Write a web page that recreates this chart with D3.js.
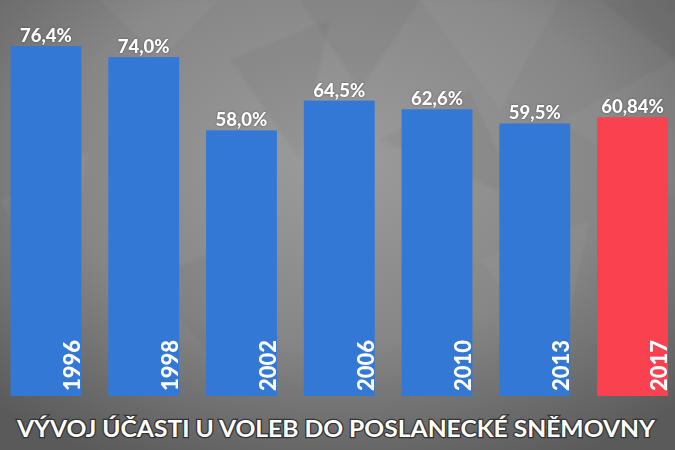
<!DOCTYPE html>
<html><head><meta charset="utf-8">
<script src="https://cdn.jsdelivr.net/npm/d3@7/dist/d3.min.js"></script>
<style>html,body{margin:0;padding:0;background:#777;}svg{display:block;}</style>
</head><body>
<script>
const years = ["1996","1998","2002","2006","2010","2013","2017"];
const turnout = [76.4, 74.0, 58.0, 64.5, 62.6, 59.5, 60.84];
const valueLabels = ["76,4%","74,0%","58,0%","64,5%","62,6%","59,5%","60,84%"];
const highlightYear = "2017";
const title = "VÝVOJ ÚČASTI U VOLEB DO POSLANECKÉ SNĚMOVNY";

const W = 675, H = 450;
const svg = d3.select("body").append("svg").attr("width", W).attr("height", H);
const defs = svg.append("defs");

// background
const rg = defs.append("radialGradient").attr("id","bg").attr("cx","50%").attr("cy","35%").attr("r","75%");
rg.append("stop").attr("offset","0%").attr("stop-color","#9c9c9c");
rg.append("stop").attr("offset","55%").attr("stop-color","#868686");
rg.append("stop").attr("offset","100%").attr("stop-color","#5a5a5a");
svg.append("rect").attr("width",W).attr("height",H).attr("fill","url(#bg)");

const blur = defs.append("filter").attr("id","soft");
blur.append("feGaussianBlur").attr("stdDeviation", 1.5);

// faint polygon texture
const polys = [
  [[300,0],[420,0],[360,90]],
  [[420,0],[560,0],[500,110]],
  [[230,60],[330,20],[300,160]],
  [[560,120],[675,60],[675,200]],
  [[380,140],[470,90],[520,200]],
  [[0,200],[90,150],[60,300]],
  [[150,280],[260,230],[230,380]],
  [[480,260],[590,220],[560,360]],
  [[600,0],[675,0],[675,60]],
  [[100,0],[220,0],[160,60]]
];
svg.append("g").attr("filter","url(#soft)").selectAll("polygon").data(polys).join("polygon")
  .attr("points", d => d.map(p => p.join(",")).join(" "))
  .attr("fill", (d,i) => i%2 ? "#ffffff" : "#000000")
  .attr("opacity", 0.035);

const x = d3.scaleBand().domain(years).range([10.5, 668]).paddingInner(0.275).paddingOuter(0);
const y = d3.scaleLinear().domain([0, 100]).range([396, -62]);

const color = d => d === highlightYear ? "#f9414f" : "#3478d6";

const g = svg.append("g");
g.selectAll("rect.bar").data(years).join("rect").attr("class","bar")
  .attr("x", d => x(d)).attr("width", x.bandwidth())
  .attr("y", (d,i) => y(turnout[i])).attr("height", (d,i) => y(0) - y(turnout[i]))
  .attr("fill", color);

g.selectAll("text.val").data(years).join("text").attr("class","val")
  .attr("x", d => x(d) + x.bandwidth()/2)
  .attr("y", (d,i) => y(turnout[i]) - 4)
  .attr("text-anchor","middle")
  .attr("fill","#ffffff")
  .attr("font-family","Lato, 'Open Sans', sans-serif")
  .attr("font-weight","900")
  .attr("font-size", 18.5)
  .style("text-shadow","0 0 2px rgba(0,0,0,0.5)")
  .text((d,i) => valueLabels[i]);

g.selectAll("text.yr").data(years).join("text").attr("class","yr")
  .attr("transform", d => `translate(${x(d) + x.bandwidth() - 1},${y(0) - 5}) rotate(-90)`)
  .attr("text-anchor","start")
  .attr("fill","#ffffff")
  .attr("font-family","Lato, 'Open Sans', sans-serif")
  .attr("font-weight","900")
  .attr("font-size", 22)
  .text(d => d);

svg.append("text")
  .attr("x", 17).attr("y", 437)
  .attr("textLength", 638).attr("lengthAdjust","spacingAndGlyphs")
  .attr("fill","#ffffff")
  .attr("stroke","#333").attr("stroke-width",2.5).attr("paint-order","stroke")
  .attr("font-family","Lato, 'Open Sans', sans-serif")
  .attr("font-weight","700")
  .attr("font-size", 23)
  .text(title);
</script>
</body></html>
